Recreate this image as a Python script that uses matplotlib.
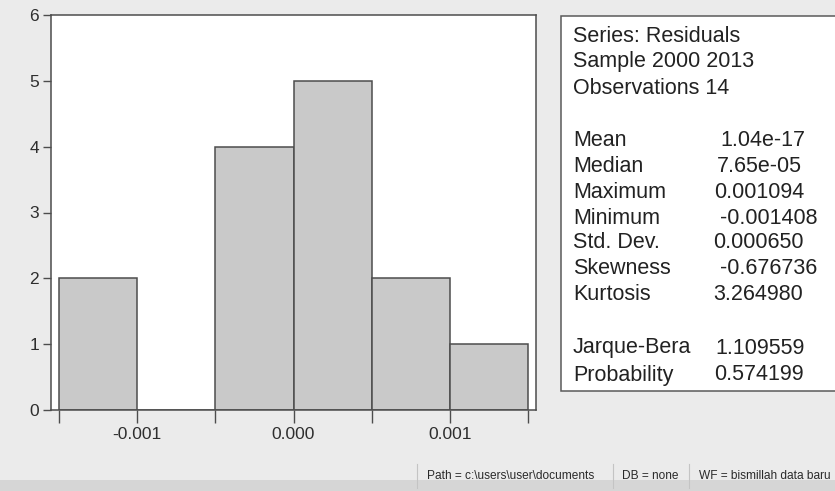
import matplotlib
matplotlib.use('Agg')
import matplotlib.pyplot as plt
import matplotlib.patches as patches

plt.rcParams['font.family'] = ['Liberation Sans', 'DejaVu Sans']

# Histogram of residuals (bin edges and counts per bin)
bin_edges = [-0.0015, -0.0010, -0.0005, 0.0000, 0.0005, 0.0010, 0.0015]
counts = [2, 0, 4, 5, 2, 1]
xtick_labels = ['', '-0.001', '', '0.000', '', '0.001', '']
yticks = [0, 1, 2, 3, 4, 5, 6]

# Descriptive statistics panel
header_lines = ['Series: Residuals', 'Sample 2000 2013', 'Observations 14']
stat_names = ['Mean', 'Median', 'Maximum', 'Minimum', 'Std. Dev.',
              'Skewness', 'Kurtosis', 'Jarque-Bera', 'Probability']
stat_values = ['1.04e-17', '7.65e-05', '0.001094', '-0.001408', '0.000650',
               '-0.676736', '3.264980', '1.109559', '0.574199']

status_items = ['Path = c:\\users\\user\\documents', 'DB = none',
                'WF = bismillah data baru']

W, H = 835, 491


def fx(x):
    return x / W


def fy(y):
    return 1 - y / H


fig = plt.figure(figsize=(W / 100, H / 100), dpi=100)
fig.patch.set_facecolor('#ebebeb')

# darker strip along the bottom of the window
fig.patches.append(patches.Rectangle((0, 0), 1, 11 / H, transform=fig.transFigure,
                                     fc='#d6d6d6', ec='none', zorder=0))

ax = fig.add_axes([fx(51), fy(410), fx(536) - fx(51), fy(15) - fy(410)])
ax.set_facecolor('white')

widths = [b - a for a, b in zip(bin_edges[:-1], bin_edges[1:])]
ax.bar(bin_edges[:-1], counts, width=widths, align='edge',
       color='#c9c9c9', edgecolor='#4d4d4d', linewidth=1.1, zorder=2)

ax.set_xlim(-0.00155, 0.00155)
ax.set_ylim(0, 6)
ax.set_xticks(bin_edges)
ax.set_xticklabels(xtick_labels)
ax.set_yticks(yticks)
ax.tick_params(axis='x', direction='out', length=9, width=1.0, color='#4d4d4d',
               labelsize=12.5, labelcolor='#2e2e2e', pad=3)
ax.tick_params(axis='y', direction='out', length=5.5, width=1.0, color='#4d4d4d',
               labelsize=12.5, labelcolor='#2e2e2e', pad=3)
for side in ax.spines.values():
    side.set_color('#4d4d4d')
    side.set_linewidth(1.1)

# statistics box on the right
fig.patches.append(patches.Rectangle((fx(561), fy(391)), fx(900) - fx(561), fy(16) - fy(391),
                                     transform=fig.transFigure, fc='white',
                                     ec='#5a5a5a', lw=1.1, zorder=1))

txt = dict(fontsize=15.5, color='#222222', va='center', ha='left')
for i, line in enumerate(header_lines):
    fig.text(fx(573), fy(36 + 26 * i), line, **txt)

stat_y = [140, 166, 192, 218, 243, 269, 295, 348, 375]
value_x = [720, 717, 714, 720, 713, 720, 713, 715, 714]
for name, val, y, x in zip(stat_names, stat_values, stat_y, value_x):
    fig.text(fx(573), fy(y), name, **txt)
    fig.text(fx(x), fy(y), val, **txt)

# status bar
sep_x = [417, 613, 689]
text_x = [427, 622, 699]
for sx, tx, item in zip(sep_x, text_x, status_items):
    fig.add_artist(plt.Line2D([fx(sx), fx(sx)], [fy(464), fy(488)],
                              transform=fig.transFigure, color='#c4c4c4', lw=0.8))
    fig.text(fx(tx), fy(476), item, fontsize=8.6, color='#2a2a2a',
             va='center', ha='left')

fig.savefig('out.png', dpi=100, facecolor=fig.get_facecolor())
